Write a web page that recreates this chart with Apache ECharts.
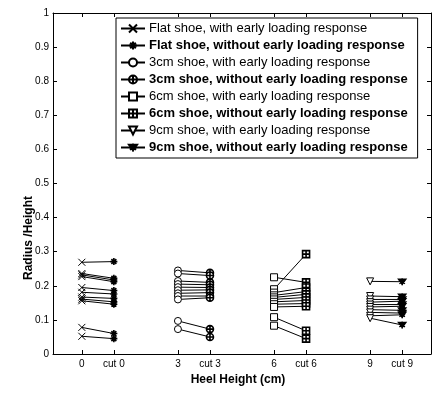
<!DOCTYPE html>
<html>
<head>
<meta charset="utf-8">
<script src="https://cdn.jsdelivr.net/npm/echarts@6/dist/echarts.min.js"></script>
<style>
html, body { margin: 0; padding: 0; background: #fff; }
#chart { width: 432px; height: 393px; }
</style>
</head>
<body>
<div id="chart"></div>
<script>
// tick positions on the heel-height axis
var xTickValues = [0, 1, 3, 4, 6, 7, 9, 10];
var xTickLabels = ['0', 'cut 0', '3', 'cut 3', '6', 'cut 6', '9', 'cut 9'];

// radius / height, with early loading response (uncut) -> without (cut)
var flatWith    = [0.269, 0.236, 0.232, 0.227, 0.195, 0.181, 0.167, 0.161, 0.156, 0.078, 0.052];
var flatWithout = [0.271, 0.222, 0.217, 0.212, 0.186, 0.176, 0.163, 0.153, 0.146, 0.060, 0.045];
var cm3With     = [0.245, 0.236, 0.214, 0.205, 0.196, 0.187, 0.178, 0.170, 0.160, 0.097, 0.073];
var cm3Without  = [0.238, 0.230, 0.210, 0.203, 0.195, 0.188, 0.180, 0.170, 0.165, 0.073, 0.050];
var cm6With     = [0.225, 0.190, 0.180, 0.172, 0.166, 0.160, 0.153, 0.146, 0.138, 0.108, 0.083];
var cm6Without  = [0.210, 0.293, 0.195, 0.183, 0.175, 0.166, 0.157, 0.148, 0.140, 0.068, 0.045];
var cm9With     = [0.213, 0.170, 0.160, 0.152, 0.145, 0.138, 0.130, 0.122, 0.112, 0.105];
var cm9Without  = [0.212, 0.168, 0.160, 0.155, 0.145, 0.140, 0.128, 0.120, 0.115, 0.085];

var names = [
    'Flat shoe, with early loading response',
    'Flat shoe, without early loading response',
    '3cm shoe, with early loading response',
    '3cm shoe, without early loading response',
    '6cm shoe, with early loading response',
    '6cm shoe, without early loading response',
    '9cm shoe, with early loading response',
    '9cm shoe, without early loading response'
];

var plus = 'M5,0L5,10M0,5L10,5';
var sym = {
    cross: 'path://M0,0L10,10M10,0L0,10',
    star: 'path://M5,0L5,10M0,5L10,5M1.5,1.5L8.5,8.5M8.5,1.5L1.5,8.5',
    circle: 'path://M0,5A5,5,0,1,1,10,5A5,5,0,1,1,0,5Z',
    circlePlus: 'path://M0,5A5,5,0,1,1,10,5A5,5,0,1,1,0,5Z' + plus,
    square: 'path://M0,0L10,0L10,10L0,10Z',
    squarePlus: 'path://M0,0L10,0L10,10L0,10Z' + plus,
    tri: 'path://M0,0L10,0L5,9Z',
    triStar: 'path://M0,0L10,0L5,9Z' + 'M5,-2L5,11M1,2L9,8M9,2L1,8'
};

// uncut series: draws the joining lines, marker only at the uncut point
function withSeries(name, x, a, b, symbol, fill) {
    var data = [];
    for (var i = 0; i < a.length; i++) {
        data.push([x, a[i]]);
        data.push({ value: [x + 1, b[i]], symbol: 'none' });
        data.push([x + 0.5, '-']);
    }
    return {
        name: name,
        type: 'line',
        data: data,
        symbol: symbol,
        symbolSize: 7,
        connectNulls: false,
        lineStyle: { color: '#000', width: 1 },
        itemStyle: { color: fill, borderColor: '#000', borderWidth: 1 },
        z: 2
    };
}

// cut series: isolated markers only
function withoutSeries(name, x, b, symbol, fill) {
    var data = [];
    for (var i = 0; i < b.length; i++) {
        data.push([x, b[i]]);
        data.push([x, '-']);
    }
    return {
        name: name,
        type: 'line',
        data: data,
        symbol: symbol,
        symbolSize: 7,
        connectNulls: false,
        lineStyle: { color: '#000', width: 1 },
        itemStyle: { color: fill, borderColor: '#000', borderWidth: 1.6 },
        z: 3
    };
}

var font = 'Liberation Sans, Arial, sans-serif';
var chart = echarts.init(document.getElementById('chart'));

var option = {
    animation: false,
    backgroundColor: '#fff',
    grid: { left: 53, right: 1, top: 13, bottom: 39 },
    legend: {
        data: names.map(function (n, i) {
            return { name: n, textStyle: { fontWeight: i % 2 ? 'bold' : 'normal' } };
        }),
        orient: 'vertical',
        left: 116,
        top: 18,
        padding: [4, 10, 4, 4],
        itemWidth: 24,
        itemHeight: 10,
        itemGap: 4,
        borderColor: '#000',
        borderWidth: 1,
        backgroundColor: '#fff',
        textStyle: { color: '#000', fontSize: 13, lineHeight: 13, fontFamily: font, padding: [0, 0, 0, -1] }
    },
    xAxis: [
        {
            type: 'value',
            min: -0.9,
            max: 10.9,
            splitLine: { show: false },
            axisLine: { onZero: false, lineStyle: { color: '#000' } },
            axisTick: { inside: true, length: 4, customValues: xTickValues, lineStyle: { color: '#000' } },
            axisLabel: {
                customValues: xTickValues,
                color: '#000', fontSize: 10, fontFamily: font, margin: 5,
                formatter: function (v) { return xTickLabels[xTickValues.indexOf(v)]; }
            }
        },
        {
            type: 'value',
            position: 'top',
            min: -0.9,
            max: 10.9,
            splitLine: { show: false },
            axisLine: { onZero: false, lineStyle: { color: '#000' } },
            axisTick: { inside: true, length: 4, customValues: xTickValues, lineStyle: { color: '#000' } },
            axisLabel: { show: false }
        }
    ],
    yAxis: [
        {
            type: 'value',
            min: 0,
            max: 1,
            interval: 0.1,
            splitLine: { show: false },
            axisLine: { show: true, onZero: false, lineStyle: { color: '#000' } },
            axisTick: { show: true, inside: true, length: 4, lineStyle: { color: '#000' } },
            axisLabel: { color: '#000', fontSize: 10, fontFamily: font, margin: 4 }
        },
        {
            type: 'value',
            position: 'right',
            min: 0,
            max: 1,
            interval: 0.1,
            splitLine: { show: false },
            axisLine: { show: true, onZero: false, lineStyle: { color: '#000' } },
            axisTick: { show: true, inside: true, length: 4, lineStyle: { color: '#000' } },
            axisLabel: { show: false }
        }
    ],
    graphic: [
        {
            type: 'text', x: 29, y: 238, rotation: Math.PI / 2,
            style: { text: 'Radius /Height', fill: '#000', font: 'bold 12px ' + font, align: 'center', verticalAlign: 'middle' }
        },
        {
            type: 'text', x: 238, y: 380,
            style: { text: 'Heel Height (cm)', fill: '#000', font: 'bold 12px ' + font, align: 'center', verticalAlign: 'middle' }
        }
    ],
    series: [
        withSeries(names[0], 0, flatWith, flatWithout, sym.cross, '#fff'),
        withoutSeries(names[1], 1, flatWithout, sym.star, '#000'),
        withSeries(names[2], 3, cm3With, cm3Without, sym.circle, '#fff'),
        withoutSeries(names[3], 4, cm3Without, sym.circlePlus, '#fff'),
        withSeries(names[4], 6, cm6With, cm6Without, sym.square, '#fff'),
        withoutSeries(names[5], 7, cm6Without, sym.squarePlus, '#fff'),
        withSeries(names[6], 9, cm9With, cm9Without, sym.tri, '#fff'),
        withoutSeries(names[7], 10, cm9Without, sym.triStar, '#000')
    ]
};

chart.setOption(option);
window.addEventListener('resize', function () {
    chart.resize();
});
</script>
</body>
</html>
